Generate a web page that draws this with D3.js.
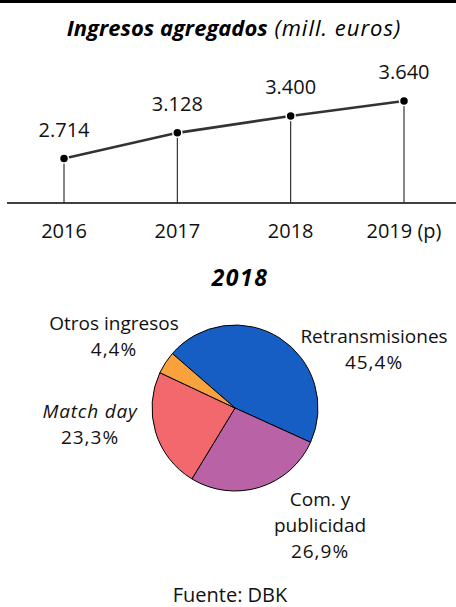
<!DOCTYPE html>
<html>
<head>
<meta charset="utf-8">
<script src="https://cdn.jsdelivr.net/npm/d3@7"></script>
<style>
  body { margin: 0; background: #fff; }
  svg { display: block; font-family: "Open Sans", sans-serif; }
</style>
</head>
<body>
<div id="chart-area"></div>
<script>
// Ingresos agregados (mill. euros) + reparto 2018
var years = ["2016", "2017", "2018", "2019 (p)"];
var ingresos = [2714, 3128, 3400, 3640];
var ingresosLabels = ["2.714", "3.128", "3.400", "3.640"];

var pieCats = ["Retransmisiones", "Com. y publicidad", "Match day", "Otros ingresos"];
var pieValues = [45.4, 26.9, 23.3, 4.4];
var pieLabels = ["45,4%", "26,9%", "23,3%", "4,4%"];
var pieColors = ["#175ec4", "#b962a6", "#f3686d", "#f7a23d"];

var width = 456, height = 607;

var svg = d3.select("#chart-area").append("svg")
    .attr("width", width)
    .attr("height", height);

// top rule
svg.append("rect")
    .attr("x", 0).attr("y", 0)
    .attr("width", width).attr("height", 3)
    .attr("fill", "#000");

// Title
var title = svg.append("text")
    .attr("x", 234)
    .attr("y", 36)
    .attr("text-anchor", "middle")
    .attr("font-size", "22px")
    .style("font-style", "italic");
title.append("tspan").attr("font-weight", "bold").text("Ingresos agregados");
title.append("tspan").attr("letter-spacing", "1px").text(" (mill. euros)");

// Line chart
var x = d3.scalePoint().domain(years).range([64, 404]);
var y = d3.scaleLinear().domain([2000, 3640]).range([203, 101]);

var data = years.map(function(d, i) {
    return { year: d, value: ingresos[i], label: ingresosLabels[i] };
});

var xAxisGroup = svg.append("g")
    .attr("transform", "translate(0, 203)");
xAxisGroup.append("line")
    .attr("x1", 7).attr("x2", width)
    .attr("stroke", "#000").attr("stroke-width", 1.3);

xAxisGroup.selectAll("text.year")
    .data(years)
    .enter().append("text")
    .attr("class", "year")
    .attr("x", function(d) { return x(d); })
    .attr("y", 35)
    .attr("text-anchor", "middle")
    .attr("font-size", "20px")
    .attr("fill", "#111")
    .text(function(d) { return d; });

svg.selectAll("line.stem")
    .data(data)
    .enter().append("line")
    .attr("class", "stem")
    .attr("x1", function(d) { return x(d.year); })
    .attr("x2", function(d) { return x(d.year); })
    .attr("y1", function(d) { return y(d.value); })
    .attr("y2", 203)
    .attr("stroke", "#222")
    .attr("stroke-width", 1.1);

var line = d3.line()
    .x(function(d) { return x(d.year); })
    .y(function(d) { return y(d.value); });

svg.append("path")
    .datum(data)
    .attr("d", line)
    .attr("fill", "none")
    .attr("stroke", "#333")
    .attr("stroke-width", 2.6);

svg.selectAll("circle.dot")
    .data(data)
    .enter().append("circle")
    .attr("class", "dot")
    .attr("cx", function(d) { return x(d.year); })
    .attr("cy", function(d) { return y(d.value); })
    .attr("r", 4.5)
    .attr("fill", "#000")
    .attr("stroke", "#fff")
    .attr("stroke-width", 1.5);

svg.selectAll("text.val")
    .data(data)
    .enter().append("text")
    .attr("class", "val")
    .attr("x", function(d) { return x(d.year); })
    .attr("y", function(d) { return y(d.value) - 22; })
    .attr("text-anchor", "middle")
    .attr("font-size", "20px")
    .attr("fill", "#111")
    .text(function(d) { return d.label; });

// Pie 2018
svg.append("text")
    .attr("x", 240)
    .attr("y", 286)
    .attr("text-anchor", "middle")
    .attr("font-size", "23px")
    .attr("font-weight", "bold")
    .attr("letter-spacing", "1.5px")
    .style("font-style", "italic")
    .text("2018");

var cx = 235, cy = 408, radius = 83;
var start = 311 * Math.PI / 180;

var pie = d3.pie().sort(null)
    .startAngle(start)
    .endAngle(start + 2 * Math.PI);
var arc = d3.arc().innerRadius(0).outerRadius(radius);

var slices = pieCats.map(function(c, i) {
    return { cat: c, value: pieValues[i], label: pieLabels[i], color: pieColors[i] };
});

var pg = svg.append("g").attr("transform", "translate(" + cx + "," + cy + ")");
pg.selectAll("path")
    .data(pie.value(function(d) { return d.value; })(slices))
    .enter().append("path")
    .attr("d", arc)
    .attr("fill", function(d) { return d.data.color; })
    .attr("stroke", "#000")
    .attr("stroke-width", 1);

// pie labels: [text, italic, isPercent]
var labelPos = [
    { x: 374, y: 343, lines: [["Retransmisiones", false, false], ["45,4%", false, true]] },
    { x: 320, y: 506, lines: [["Com. y", false, false], ["publicidad", false, false], ["26,9%", false, true]] },
    { x: 90, y: 418, lines: [["Match day", true, false], ["23,3%", false, true]] },
    { x: 114, y: 330, lines: [["Otros ingresos", false, false], ["4,4%", false, true]] }
];

labelPos.forEach(function(p) {
    var t = svg.append("text")
        .attr("text-anchor", "middle")
        .attr("font-size", "19px")
        .attr("fill", "#111");
    p.lines.forEach(function(l, j) {
        t.append("tspan")
            .attr("x", p.x)
            .attr("y", p.y + j * 26)
            .attr("letter-spacing", l[2] ? "1px" : (l[1] ? "0.8px" : "0px"))
            .style("font-style", l[1] ? "italic" : "normal")
            .text(l[0]);
    });
});

// source
svg.append("text")
    .attr("x", 230)
    .attr("y", 602)
    .attr("text-anchor", "middle")
    .attr("font-size", "20px")
    .attr("fill", "#111")
    .text("Fuente: DBK");
</script>
</body>
</html>
